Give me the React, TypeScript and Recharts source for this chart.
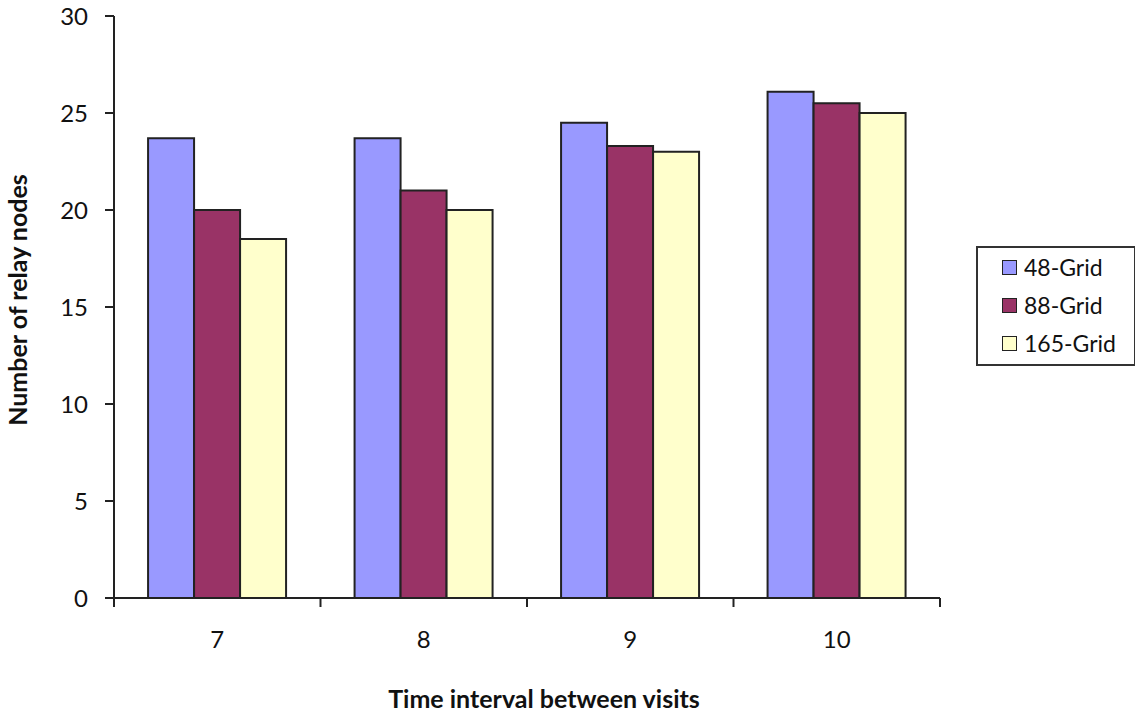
import { BarChart, Bar, XAxis, YAxis, Legend } from 'recharts';

const intervals = ['7', '8', '9', '10'];
const grid48 = [23.7, 23.7, 24.5, 26.1];
const grid88 = [20, 21, 23.3, 25.5];
const grid165 = [18.5, 20, 23, 25];
const yTicks = [0, 5, 10, 15, 20, 25, 30];

const seriesInfo = [
  { key: 'g48', name: '48-Grid', color: '#9999FF' },
  { key: 'g88', name: '88-Grid', color: '#993366' },
  { key: 'g165', name: '165-Grid', color: '#FFFFCC' },
];

const data = intervals.map((t, i) => ({
  t,
  g48: grid48[i],
  g88: grid88[i],
  g165: grid165[i],
}));

const FONT = 'Lato, "Open Sans", sans-serif';

// category label in the middle, tick marks on the band edges
function IntervalTick(props: any) {
  const { x, y, payload, index, visibleTicksCount } = props;
  const half = payload && payload.offset ? payload.offset : 103.3;
  const last = index === visibleTicksCount - 1;
  return (
    <g>
      <line x1={x - half} y1={y} x2={x - half} y2={y + 9} stroke="#222" strokeWidth={2} />
      {last && <line x1={x + half} y1={y} x2={x + half} y2={y + 9} stroke="#222" strokeWidth={2} />}
      <text x={x} y={y + 44} textAnchor="middle" dominantBaseline="middle" fontSize={24} fill="#111" fontFamily={FONT}>
        {payload.value}
      </text>
    </g>
  );
}

function YTitle(props: any) {
  const { viewBox } = props;
  const cx = viewBox.x - 33;
  const cy = viewBox.y + viewBox.height / 2 - 7;
  return (
    <text x={cx} y={cy} transform={`rotate(-90 ${cx} ${cy})`} textAnchor="middle" dominantBaseline="middle"
      fontSize={25} fontWeight={700} fill="#111" fontFamily={FONT}>
      Number of relay nodes
    </text>
  );
}

function LegendBox() {
  return (
    <div style={{ border: '2px solid #333', background: '#fff', width: 160, height: 120, boxSizing: 'border-box', padding: '0 0 0 24px', fontFamily: FONT }}>
      {seriesInfo.map((s) => (
        <div key={s.key} style={{ display: 'flex', alignItems: 'center', height: 38 }}>
          <span style={{ width: 13, height: 13, background: s.color, border: '1.5px solid #222', marginRight: 7 }} />
          <span style={{ fontSize: 23, color: '#111' }}>{s.name}</span>
        </div>
      ))}
    </div>
  );
}

export default function App() {
  return (
    <div style={{ position: 'fixed', left: 0, top: 0, width: 1135, height: 714, background: '#fff' }}>
      <BarChart
        width={1135}
        height={714}
        data={data}
        margin={{ top: 16, right: 195, bottom: 56, left: 54 }}
        barCategoryGap="16.5%"
        barGap={0}
      >
        <XAxis
          dataKey="t"
          axisLine={{ stroke: '#222', strokeWidth: 2 }}
          tickLine={false}
          tickSize={0}
          tickMargin={0}
          height={60}
          tick={<IntervalTick />}
          interval={0}
          label={{ value: 'Time interval between visits', position: 'insideBottom', offset: -50, dx: 17, fontSize: 25, fontWeight: 700, fill: '#111', fontFamily: FONT }}
        />
        <XAxis xAxisId="top" dataKey="t" orientation="top" height={0} tick={false} tickLine={false} axisLine={{ stroke: '#aaa', strokeWidth: 2 }} />
        <YAxis
          domain={[0, 30]}
          ticks={yTicks}
          width={60}
          tickSize={9}
          tickMargin={17}
          axisLine={{ stroke: '#222', strokeWidth: 2 }}
          tickLine={{ stroke: '#222', strokeWidth: 2 }}
          tick={{ fontSize: 24, fill: '#111', fontFamily: FONT }}
          label={<YTitle />}
        />
        <YAxis yAxisId="right" orientation="right" domain={[0, 30]} width={0} tick={false} tickLine={false} axisLine={{ stroke: '#aaa', strokeWidth: 2 }} />
        <Legend
          layout="horizontal"
          verticalAlign="middle"
          align="center"
          content={<LegendBox />}
          wrapperStyle={{ left: 976, top: 246, width: 160, height: 120 }}
        />
        {seriesInfo.map((s) => (
          <Bar key={s.key} dataKey={s.key} name={s.name} fill={s.color} stroke="#222" strokeWidth={2} isAnimationActive={false} />
        ))}
      </BarChart>
    </div>
  );
}
